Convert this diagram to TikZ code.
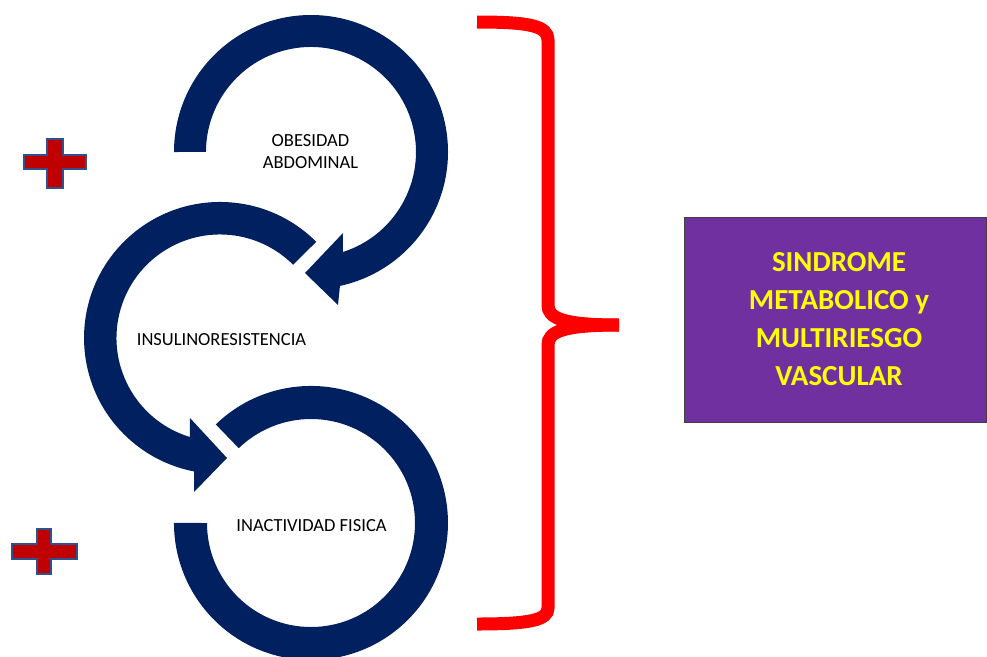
\documentclass[tikz,border=0pt]{standalone}
\usepackage{fontspec}
\setmainfont{Carlito}
\definecolor{navy}{RGB}{0,32,96}
\definecolor{plusred}{RGB}{192,0,0}
\definecolor{plusblue}{RGB}{47,82,143}
\definecolor{boxpurple}{RGB}{112,48,160}
\definecolor{braced}{RGB}{255,0,0}
\definecolor{ytext}{RGB}{255,255,0}
\begin{document}
\begin{tikzpicture}[x=1pt,y=1pt,
  ring/.style={fill=navy,draw=none},
  plussign/.style={fill=plusred,draw=plusblue,line width=2.4pt,line join=miter},
  lbl/.style={font=\fontsize{18.5}{21.5}\selectfont,text=black,align=center,anchor=base,inner sep=0pt},
  brace/.style={draw=braced,line width=13pt},
  resbox/.style={fill=boxpurple,draw=black!75,line width=0.8pt},
  restext/.style={font=\fontsize{29}{37.8}\selectfont\bfseries,text=ytext,align=center,anchor=base,inner sep=0pt}]
\useasboundingbox (0,0) rectangle (987,-656);
\clip (0,0) rectangle (987,-656);
% centres
\coordinate (c1) at (311,-152);
\coordinate (c2) at (220,-338);
\coordinate (c3) at (311,-523);
% ring 1 (obesidad)
\fill[ring] (174,-152) arc[start angle=180, end angle=-77.8, radius=137]
  -- (338,-305) -- (305,-273) -- (343,-233) -- (342.9,-252)
  arc[start angle=-72.3, end angle=180, radius=105] -- cycle;
% ring 2 (insulinoresistencia)
\fill[ring] (316.2,-241.8) arc[start angle=45, end angle=259, radius=136]
  -- (194,-492) -- (227,-458) -- (190,-418) -- (189.9,-437)
  arc[start angle=253.1, end angle=45, radius=103.5] -- cycle;
% ring 3 (inactividad)
\fill[ring] (215.8,-424.4) arc[start angle=134, end angle=-180, radius=137]
  -- (207,-523) arc[start angle=-180, end angle=134, radius=104] -- cycle;
% labels (anchor = baseline of last line)
\node[lbl] (obes) at (310.5,-168.3) {OBESIDAD\\ABDOMINAL};
\node[lbl] (insu) at (221.5,-345) {INSULINORESISTENCIA};
\node[lbl] (inac) at (311.5,-531.7) {INACTIVIDAD FISICA};
% plus signs
\draw[plussign] (24.2,-155.2) -- (47.2,-155.2) -- (47.2,-139.2) -- (62.8,-139.2) -- (62.8,-155.2)
  -- (85.8,-155.2) -- (85.8,-168.8) -- (62.8,-168.8) -- (62.8,-187.8) -- (47.2,-187.8)
  -- (47.2,-168.8) -- (24.2,-168.8) -- cycle;
\draw[plussign] (12.2,-544.2) -- (37.2,-544.2) -- (37.2,-529.2) -- (50.8,-529.2) -- (50.8,-544.2)
  -- (76.8,-544.2) -- (76.8,-558.8) -- (50.8,-558.8) -- (50.8,-573.8) -- (37.2,-573.8)
  -- (37.2,-558.8) -- (12.2,-558.8) -- cycle;
% brace
\draw[brace] (477,-22) .. controls (530,-22) and (548,-26) .. (548,-40) -- (548,-305)
  .. controls (548,-318) and (562,-325) .. (619,-325);
\draw[brace] (619,-325) .. controls (562,-325) and (548,-332) .. (548,-345) -- (548,-608)
  .. controls (548,-620) and (530,-624) .. (477,-624);
% result box
\draw[resbox] (684,-217) rectangle (986.5,-422);
\node[restext] (sind) at (839,-385) {SINDROME\\METABOLICO y\\MULTIRIESGO\\VASCULAR};
\end{tikzpicture}
\end{document}
